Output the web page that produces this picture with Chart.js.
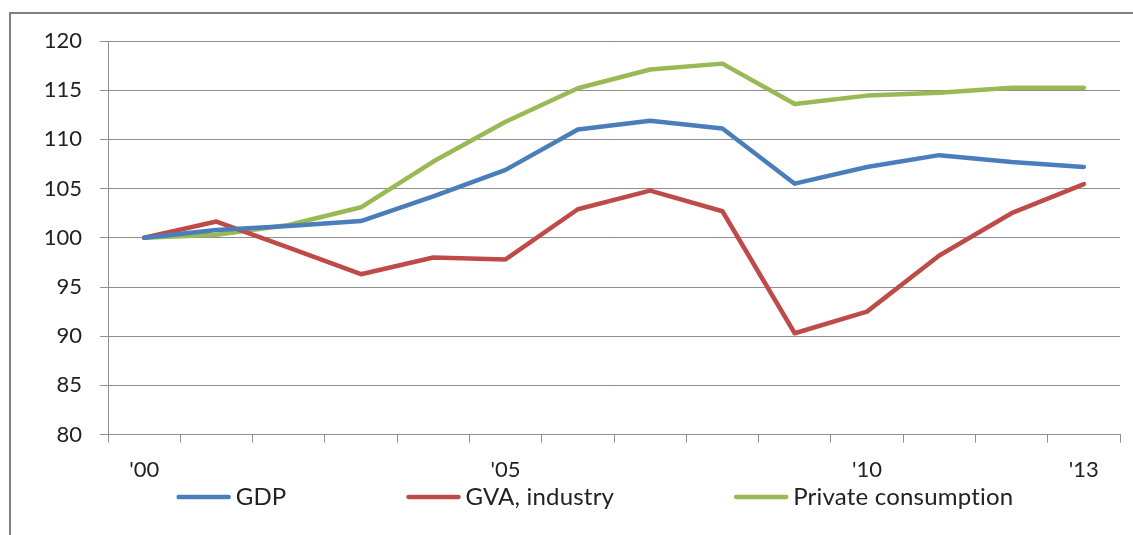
<!DOCTYPE html>
<html>
<head>
<meta charset="utf-8">
<script src="https://cdn.jsdelivr.net/npm/chart.js@4.4.1/dist/chart.umd.min.js"></script>
<style>
  html, body { margin: 0; padding: 0; background: #fff; }
  #wrap { width: 1133px; height: 535px; position: relative; }
</style>
</head>
<body>
<div id="wrap"><canvas id="chart"></canvas></div>
<script>
// Index, 2000 = 100
const years = ["'00", "'01", "'02", "'03", "'04", "'05", "'06", "'07", "'08", "'09", "'10", "'11", "'12", "'13"];
const shownYears = ["'00", "'05", "'10", "'13"];
const gdp = [100, 100.8, 101.2, 101.7, 104.2, 106.9, 111.0, 111.9, 111.1, 105.5, 107.2, 108.4, 107.7, 107.2];
const gvaIndustry = [100, 101.65, 99.0, 96.3, 98.0, 97.8, 102.9, 104.8, 102.7, 90.3, 92.5, 98.2, 102.5, 105.45];
const privateConsumption = [100, 100.3, 101.3, 103.1, 107.75, 111.8, 115.2, 117.1, 117.7, 113.6, 114.45, 114.75, 115.25, 115.25];
const yMin = 80;
const yMax = 120;
const yStep = 5;

const gridGray = '#8e8e8e';
const textColor = '#222';
const fontFamily = 'Lato, "Open Sans", sans-serif';

// Grey frame round the chart (left and top edges are visible)
const frame = {
    id: 'frame',
    beforeDraw(chart) {
        const ctx = chart.ctx;
        ctx.save();
        ctx.strokeStyle = '#808080';
        ctx.lineWidth = 2;
        ctx.beginPath();
        ctx.moveTo(10, chart.height);
        ctx.lineTo(10, 13);
        ctx.lineTo(chart.width, 13);
        ctx.stroke();
        ctx.restore();
    }
};

// Legend drawn as short thick lines, like the original
const lineLegend = {
    id: 'lineLegend',
    afterDraw(chart) {
        const ctx = chart.ctx;
        const lineLen = 54, gap = 5, spacing = 120, y = 497, center = 595;
        ctx.save();
        ctx.font = '24px ' + fontFamily;
        ctx.letterSpacing = '0.2px'; // keeps "ti" from turning into a ligature
        const items = chart.data.datasets.map(ds => ({
            text: ds.label,
            color: ds.borderColor,
            w: lineLen + gap + ctx.measureText(ds.label).width
        }));
        const total = items.reduce((s, it) => s + it.w, 0) + spacing * (items.length - 1);
        let x = center - total / 2;
        items.forEach(it => {
            ctx.strokeStyle = it.color;
            ctx.lineWidth = 4.5;
            ctx.lineCap = 'round';
            ctx.beginPath();
            ctx.moveTo(x + 2, y);
            ctx.lineTo(x + lineLen - 2, y);
            ctx.stroke();
            ctx.fillStyle = textColor;
            ctx.textBaseline = 'middle';
            ctx.textAlign = 'left';
            ctx.fillText(it.text, x + lineLen + gap, y);
            x += it.w + spacing;
        });
        ctx.restore();
    }
};

const lineStyle = { borderWidth: 4.5, pointRadius: 0, tension: 0, fill: false, borderJoinStyle: 'round', borderCapStyle: 'round' };

new Chart(document.getElementById('chart'), {
    type: 'line',
    data: {
        labels: years,
        datasets: [
            { label: 'GDP', data: gdp, borderColor: '#4a7ebb', backgroundColor: '#4a7ebb', ...lineStyle },
            { label: 'GVA, industry', data: gvaIndustry, borderColor: '#be4b48', backgroundColor: '#be4b48', ...lineStyle },
            { label: 'Private consumption', data: privateConsumption, borderColor: '#98b954', backgroundColor: '#98b954', ...lineStyle }
        ]
    },
    options: {
        responsive: true,
        maintainAspectRatio: false,
        animation: false,
        layout: { padding: { left: 10, right: 13, top: 41, bottom: 38 } },
        plugins: {
            legend: { display: false },
            tooltip: { enabled: false }
        },
        scales: {
            x: {
                offset: true,
                grid: { offset: true, drawOnChartArea: false, drawTicks: true, tickLength: 8, color: gridGray },
                border: { display: true, color: gridGray },
                ticks: {
                    autoSkip: false,
                    maxRotation: 0,
                    padding: 14,
                    color: textColor,
                    font: { family: fontFamily, size: 22 },
                    callback: function (value) {
                        const lab = this.getLabelForValue(value);
                        return shownYears.includes(lab) ? lab : '';
                    }
                }
            },
            y: {
                min: yMin,
                max: yMax,
                afterFit(scale) { scale.width = 98; },
                grid: { color: gridGray, tickLength: 8, drawTicks: true },
                border: { display: true, color: gridGray },
                ticks: {
                    stepSize: yStep,
                    padding: 18,
                    color: textColor,
                    font: { family: fontFamily, size: 22 }
                }
            }
        }
    },
    plugins: [frame, lineLegend]
});
</script>
</body>
</html>
